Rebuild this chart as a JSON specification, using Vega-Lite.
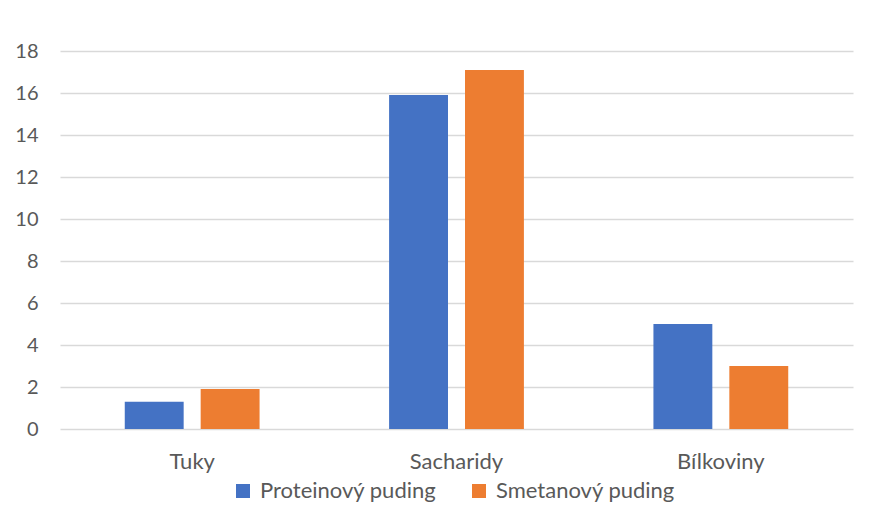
{
  "$schema": "https://vega.github.io/schema/vega-lite/v6.json",
  "autosize": "none",
  "width": 793,
  "height": 378,
  "padding": {"left": 60, "top": 51, "right": 24, "bottom": 88},
  "background": "white",
  "data": {
    "values": [
      {"slozka": "Tuky", "puding": "Proteinový puding", "hodnota": 1.3},
      {"slozka": "Tuky", "puding": "Smetanový puding", "hodnota": 1.9},
      {"slozka": "Sacharidy", "puding": "Proteinový puding", "hodnota": 15.9},
      {"slozka": "Sacharidy", "puding": "Smetanový puding", "hodnota": 17.1},
      {"slozka": "Bílkoviny", "puding": "Proteinový puding", "hodnota": 5},
      {"slozka": "Bílkoviny", "puding": "Smetanový puding", "hodnota": 3}
    ]
  },
  "mark": {"type": "bar"},
  "encoding": {
    "x": {
      "field": "slozka",
      "type": "nominal",
      "sort": ["Tuky", "Sacharidy", "Bílkoviny"],
      "scale": {"paddingInner": 0.49, "paddingOuter": 0.245},
      "axis": {
        "title": null,
        "labelAngle": 0,
        "domain": false,
        "ticks": false,
        "labelPadding": 22,
        "labelFontSize": 22,
        "labelFont": "Lato",
        "labelColor": "#595959"
      }
    },
    "xOffset": {
      "field": "puding",
      "type": "nominal",
      "scale": {"paddingInner": 0.224, "paddingOuter": 0}
    },
    "y": {
      "field": "hodnota",
      "type": "quantitative",
      "scale": {"domain": [0, 18], "nice": false},
      "axis": {
        "title": null,
        "values": [0, 2, 4, 6, 8, 10, 12, 14, 16, 18],
        "domain": false,
        "ticks": false,
        "labelPadding": 22,
        "labelFontSize": 20,
        "labelFont": "Lato",
        "labelColor": "#595959",
        "gridColor": "#d9d9d9",
        "gridWidth": 1.5
      }
    },
    "color": {
      "field": "puding",
      "type": "nominal",
      "scale": {
        "domain": ["Proteinový puding", "Smetanový puding"],
        "range": ["#4472C4", "#ED7D31"]
      },
      "legend": {
        "title": null,
        "orient": "none",
        "direction": "horizontal",
        "legendX": 172,
        "legendY": 429,
        "symbolType": "square",
        "symbolSize": 196,
        "symbolStrokeWidth": 0,
        "symbolOpacity": 1,
        "labelFontSize": 22,
        "labelFont": "Lato",
        "labelColor": "#595959",
        "labelLimit": 300,
        "columnPadding": 31,
        "labelOffset": 6
      }
    }
  },
  "config": {
    "view": {"stroke": null}
  }
}
